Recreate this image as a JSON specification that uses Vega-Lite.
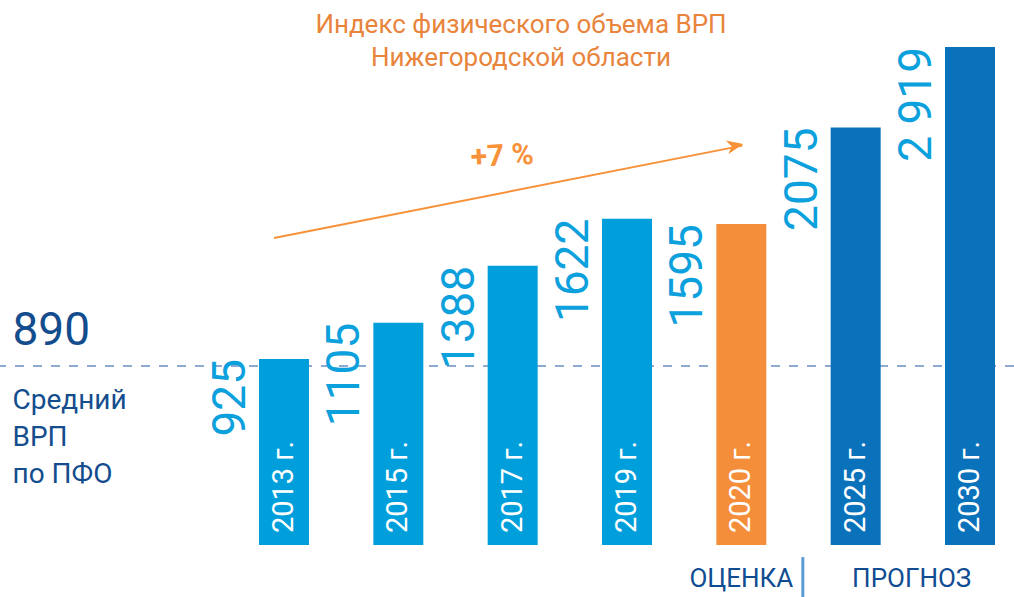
{
  "$schema": "https://vega.github.io/schema/vega-lite/v6.json",
  "width": 1014,
  "height": 550,
  "autosize": {"type": "none"},
  "padding": {"top": 47, "left": 0, "right": 0, "bottom": 0},
  "background": "white",
  "config": {"view": {"stroke": null}, "font": "Roboto"},
  "title": {
    "text": ["Индекс физического объема ВРП", "Нижегородской области"],
    "fontSize": 26,
    "fontWeight": "normal",
    "font": "Roboto",
    "color": "#e8843c",
    "lineHeight": 33,
    "anchor": "middle",
    "dx": 14,
    "offset": -24
  },
  "datasets": {
    "bars": [
      {"year": "2013 г.", "value": 925, "label": "925", "type": "факт"},
      {"year": "2015 г.", "value": 1105, "label": "1105", "type": "факт"},
      {"year": "2017 г.", "value": 1388, "label": "1388", "type": "факт"},
      {"year": "2019 г.", "value": 1622, "label": "1622", "type": "факт"},
      {"year": "2020 г.", "value": 1595, "label": "1595", "type": "оценка"},
      {"year": "2025 г.", "value": 2075, "label": "2075", "type": "прогноз"},
      {"year": "2030 г.", "value": 2919, "label": "2 919", "type": "прогноз"}
    ],
    "one": [{}],
    "avg": [{"name": "Средний ВРП по ПФО", "value": 890}]
  },
  "layer": [
    {
      "data": {"name": "avg"},
      "mark": {"type": "rule", "color": "#8eaad0", "strokeWidth": 2, "strokeDash": [9, 9]},
      "encoding": {
        "y": {
          "field": "value", "type": "quantitative",
          "scale": {"domain": [-258, 2475], "clamp": true, "nice": false, "zero": false},
          "axis": {
            "values": [890],
            "grid": false,
            "domain": false, "ticks": false, "tickSize": 0,
            "labelPadding": -12, "labelAlign": "left", "labelBaseline": "alphabetic",
            "labelOffset": -21, "labelFontSize": 46, "labelColor": "#134d8e", "labelFont": "Roboto",
            "title": ["Средний", "ВРП", "по ПФО"],
            "titleAngle": 0, "titleAlign": "left", "titleBaseline": "alphabetic",
            "titleX": 12, "titleY": 361, "titleFontSize": 28, "titleFontWeight": "normal",
            "titleColor": "#134d8e", "titleLineHeight": 37, "titleFont": "Roboto"
          }
        }
      }
    },
    {
      "data": {"name": "bars"},
      "mark": {"type": "bar", "width": 50},
      "encoding": {
        "x": {
          "field": "year", "type": "nominal", "sort": null, "axis": null,
          "scale": {"range": [259, 995], "paddingInner": 0.5627, "paddingOuter": 0}
        },
        "y": {
          "field": "value", "type": "quantitative",
          "axis": {
            "values": [890],
            "grid": false,
            "domain": false, "ticks": false, "tickSize": 0,
            "labelPadding": -12, "labelAlign": "left", "labelBaseline": "alphabetic",
            "labelOffset": -21, "labelFontSize": 46, "labelColor": "#134d8e", "labelFont": "Roboto",
            "title": ["Средний", "ВРП", "по ПФО"],
            "titleAngle": 0, "titleAlign": "left", "titleBaseline": "alphabetic",
            "titleX": 12, "titleY": 361, "titleFontSize": 28, "titleFontWeight": "normal",
            "titleColor": "#134d8e", "titleLineHeight": 37, "titleFont": "Roboto"
          }
        },
        "y2": {"datum": 0},
        "color": {
          "field": "type", "type": "nominal", "legend": null,
          "scale": {"domain": ["факт", "оценка", "прогноз"], "range": ["#009fdc", "#f58e3a", "#0a72bb"]}
        }
      }
    },
    {
      "data": {"name": "bars"},
      "mark": {"type": "text", "angle": 270, "align": "right", "baseline": "alphabetic", "dy": -39, "fontSize": 46, "font": "Roboto", "color": "#0ca0dc"},
      "encoding": {
        "x": {"field": "year", "type": "nominal", "sort": null},
        "y": {"field": "value", "type": "quantitative"},
        "text": {"field": "label"}
      }
    },
    {
      "data": {"name": "bars"},
      "mark": {"type": "text", "angle": 270, "align": "left", "baseline": "middle", "dx": 12, "fontSize": 29, "font": "Roboto", "color": "white"},
      "encoding": {
        "x": {"field": "year", "type": "nominal", "sort": null},
        "y": {"datum": 0},
        "text": {"field": "year"}
      }
    },
    {
      "data": {"name": "one"},
      "mark": {"type": "rule", "color": "#f7923a", "strokeWidth": 2},
      "encoding": {
        "x": {"datum": "2013 г.", "bandPosition": 0.3},
        "x2": {"datum": "2020 г.", "bandPosition": 0.52},
        "y": {"datum": 1526},
        "y2": {"datum": 1985}
      }
    },
    {
      "data": {"name": "one"},
      "mark": {"type": "point", "shape": "M0,0 L-1,-0.42 L-0.72,0 L-1,0.42 Z", "filled": true, "color": "#f7923a", "size": 1100, "angle": 348.7, "opacity": 1},
      "encoding": {
        "x": {"datum": "2020 г.", "bandPosition": 0.54},
        "y": {"datum": 1993}
      }
    },
    {
      "data": {"name": "one"},
      "mark": {"type": "text", "text": "+7 %", "fontSize": 30, "fontWeight": "bold", "font": "Roboto", "color": "#f7923a", "align": "center", "baseline": "alphabetic", "angle": 357, "dx": -10},
      "encoding": {
        "x": {"datum": "2017 г."},
        "y": {"datum": 1889}
      }
    },
    {
      "data": {"name": "one"},
      "mark": {"type": "text", "text": "ОЦЕНКА", "fontSize": 26, "font": "Roboto", "color": "#0f4c92", "align": "center", "baseline": "alphabetic"},
      "encoding": {
        "x": {"datum": "2020 г."},
        "y": {"datum": -209}
      }
    },
    {
      "data": {"name": "one"},
      "mark": {"type": "text", "text": "ПРОГНОЗ", "fontSize": 26, "font": "Roboto", "color": "#0f4c92", "align": "center", "baseline": "alphabetic"},
      "encoding": {
        "x": {"datum": "2025 г.", "bandPosition": 1.62},
        "y": {"datum": -209}
      }
    },
    {
      "data": {"name": "one"},
      "mark": {"type": "rule", "color": "#5b9bd5", "strokeWidth": 3},
      "encoding": {
        "x": {"datum": "2020 г.", "bandPosition": 1.73},
        "y": {"datum": -60},
        "y2": {"datum": -258}
      }
    }
  ]
}
